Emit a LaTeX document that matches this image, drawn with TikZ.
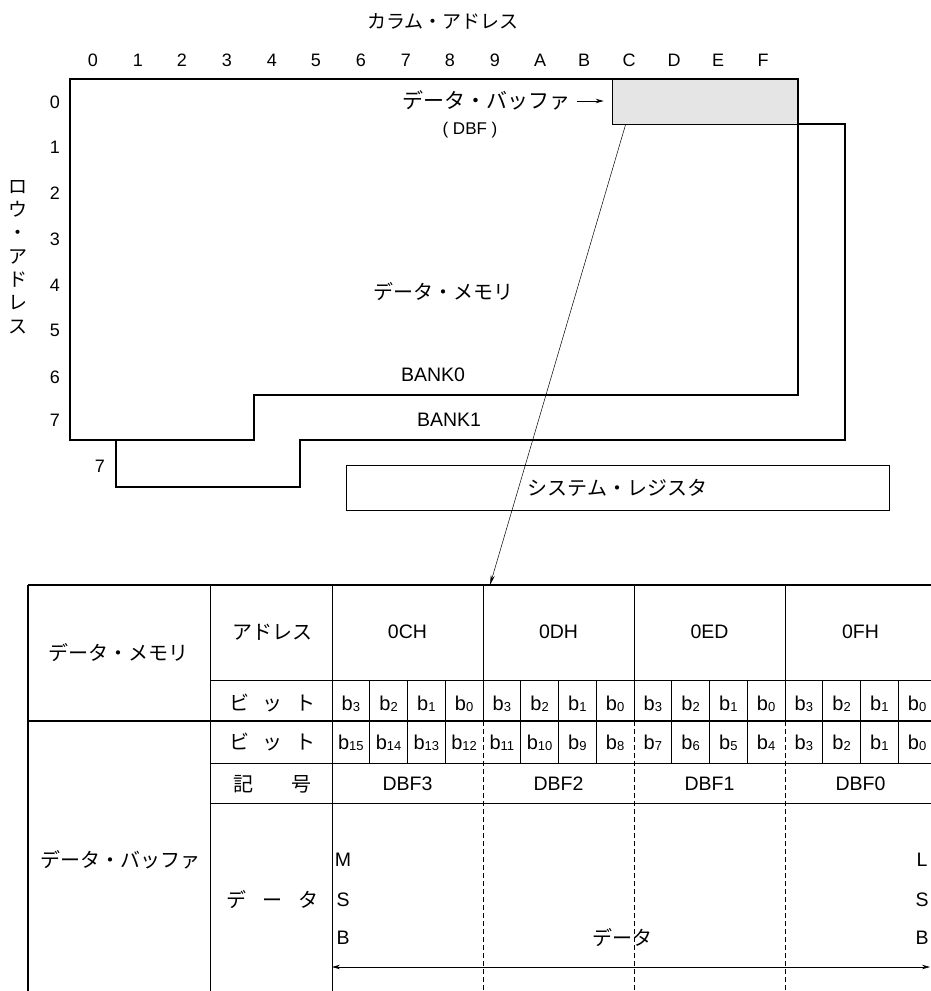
\documentclass[tikz,border=0pt]{standalone}
\usepackage{fontspec}
\setmainfont{Liberation Sans}
\newfontfamily\jpfont{Noto Sans CJK JP}
\usetikzlibrary{arrows.meta,positioning}

\newcommand{\bitsub}[1]{b\raisebox{-1.5pt}{\fontsize{13}{13}\selectfont #1}}

\tikzset{
	lat/.style={inner sep=0pt, text height=13.5pt, text depth=0pt, font=\fontsize{19.5}{22}\selectfont},
	digit/.style={inner sep=0pt, text height=12.5pt, text depth=0pt, font=\fontsize{18}{20}\selectfont},
	bitlbl/.style={inner sep=0pt, text height=14pt, text depth=0pt, font=\fontsize{20}{22}\selectfont},
	jp/.style={inner sep=0pt, text height=16pt, text depth=1pt, font=\jpfont\fontsize{20}{22}\selectfont},
	jpcol/.style={inner sep=0pt, align=center, font=\jpfont\fontsize{19}{23.3}\selectfont},
	heavy/.style={line width=1.6pt},
	rule/.style={line width=0.7pt},
	groupsep/.style={line width=0.6pt, dash pattern=on 5pt off 3pt},
	tip/.style={-{Stealth[length=8pt,width=4.5pt]}},
	dbfbox/.style={draw, rule, fill=gray!20, minimum width=186pt, minimum height=45pt, inner sep=0pt},
	sysbox/.style={draw, rule, minimum width=543pt, minimum height=45pt, inner sep=0pt, text height=16pt, text depth=1pt, font=\jpfont\fontsize{20}{22}\selectfont}
}

\begin{document}
\begin{tikzpicture}[x=1pt,y=-1pt]
		\useasboundingbox (0,0) rectangle (930,991);

		% address titles
		\draw (443,21) node [jp, font=\jpfont\fontsize{19}{20}\selectfont] (coltitle){カラム・アドレス};
		\draw (18,257) node [jpcol] (rowtitle){ロ\\ウ\\・\\ア\\ド\\レ\\ス};

		\draw (93,60) node [digit] (c0){0} (138,60) node [digit] (c1){1}
			(182,60) node [digit] (c2){2} (227,60) node [digit] (c3){3}
			(272,60) node [digit] (c4){4} (316,60) node [digit] (c5){5}
			(361,60) node [digit] (c6){6} (406,60) node [digit] (c7){7}
			(450,60) node [digit] (c8){8} (495,60) node [digit] (c9){9}
			(540,60) node [digit] (cA){A} (584,60) node [digit] (cB){B}
			(629,60) node [digit] (cC){C} (674,60) node [digit] (cD){D}
			(718,60) node [digit] (cE){E} (763,60) node [digit] (cF){F};

		\draw (55,102) node [digit] (r0){0} (55,147) node [digit] (r1){1}
			(55,193) node [digit] (r2){2} (55,239) node [digit] (r3){3}
			(55,285) node [digit] (r4){4} (55,330) node [digit] (r5){5}
			(55,377) node [digit] (r6){6} (55,420) node [digit] (r7){7};
		\draw (100,466) node [digit] (r7b){7};

		% data memory banks
		\draw (705,101.5) node [dbfbox] (dbf){};
		\draw[heavy] (70,79) -- (798,79) -- (798,395) -- (254,395) -- (254,440) -- (70,440) -- cycle;
		\draw[heavy] (798,124) -- (845,124) -- (845,440) -- (300,440) -- (300,487) -- (116,487) -- (116,440);

		\draw (443,292) node [jp] (dmem){データ・メモリ};
		\draw (433,375) node [lat] (bank0){BANK0};
		\draw (449,420) node [lat] (bank1){BANK1};
		\draw (571,101) node [jp, anchor=east, font=\jpfont\fontsize{21}{22}\selectfont] (dbflbl){データ・バッファ};
		\draw (470,128) node [lat, font=\fontsize{17}{20}\selectfont] (dbfabbr){( DBF )};
		\draw [rule, tip, shorten <=6pt, shorten >=8pt] (dbflbl.east) -- (dbflbl.east -| dbf.west);

		% system register
		\draw (617.5,487.5) node [sysbox] (sysreg){システム・レジスタ};
		\draw[heavy] (sysreg.south west) -- (sysreg.south east) -- (sysreg.north east);

		% link down to the table
		\coordinate (tbltop) at (490,585);
		\draw [line width=0.5pt, -{Stealth[length=10pt,width=4pt]}] ([xshift=14pt]dbf.south west) -- (tbltop);

		% table rules
		\draw[heavy] (28,585) -- (940,585) (28,585) -- (28,995) (28,721) -- (940,721);
		\draw[rule] (210,585) -- (210,995) (332,585) -- (332,995)
			(210,680) -- (940,680) (210,763) -- (940,763) (210,803) -- (940,803);
		\draw[rule] (483,585) -- (483,721) (634,585) -- (634,721) (785,585) -- (785,721);
		\draw[groupsep] (483,721) -- (483,995) (634,721) -- (634,995) (785,721) -- (785,995);
		\draw[rule] (369.75,680) -- (369.75,763) (407.5,680) -- (407.5,763) (445.25,680) -- (445.25,763)
			(520.75,680) -- (520.75,763) (558.5,680) -- (558.5,763) (596.25,680) -- (596.25,763)
			(671.75,680) -- (671.75,763) (709.5,680) -- (709.5,763) (747.25,680) -- (747.25,763)
			(822.75,680) -- (822.75,763) (860.5,680) -- (860.5,763) (898.25,680) -- (898.25,763);

		% table texts
		\draw (118,653) node [jp] (tdmem){データ・メモリ};
		\draw (272,632) node [jp] (taddr){アドレス};
		\draw (407.5,632) node [lat] (a0c){0CH} (558.5,632) node [lat] (a0d){0DH}
			(709.5,632) node [lat] (a0e){0ED} (860.5,632) node [lat] (a0f){0FH};

		\draw (272,703) node [jp] (tbita){ビ\hspace{13pt}ッ\hspace{13pt}ト};
		\draw (350.9,703) node [bitlbl] (m3){\bitsub{3}} (388.6,703) node [bitlbl] (m2){\bitsub{2}}
			(426.4,703) node [bitlbl] (m1){\bitsub{1}} (464.1,703) node [bitlbl] (m0){\bitsub{0}}
			(501.9,703) node [bitlbl] (n3){\bitsub{3}} (539.6,703) node [bitlbl] (n2){\bitsub{2}}
			(577.4,703) node [bitlbl] (n1){\bitsub{1}} (615.1,703) node [bitlbl] (n0){\bitsub{0}}
			(652.9,703) node [bitlbl] (o3){\bitsub{3}} (690.6,703) node [bitlbl] (o2){\bitsub{2}}
			(728.4,703) node [bitlbl] (o1){\bitsub{1}} (766.1,703) node [bitlbl] (o0){\bitsub{0}}
			(803.9,703) node [bitlbl] (p3){\bitsub{3}} (841.6,703) node [bitlbl] (p2){\bitsub{2}}
			(879.4,703) node [bitlbl] (p1){\bitsub{1}} (917.1,703) node [bitlbl] (p0){\bitsub{0}};

		\draw (272,742) node [jp] (tbitb){ビ\hspace{13pt}ッ\hspace{13pt}ト};
		\draw (350.9,742) node [bitlbl] (d15){\bitsub{15}} (388.6,742) node [bitlbl] (d14){\bitsub{14}}
			(426.4,742) node [bitlbl] (d13){\bitsub{13}} (464.1,742) node [bitlbl] (d12){\bitsub{12}}
			(501.9,742) node [bitlbl] (d11){\bitsub{11}} (539.6,742) node [bitlbl] (d10){\bitsub{10}}
			(577.4,742) node [bitlbl] (d9){\bitsub{9}} (615.1,742) node [bitlbl] (d8){\bitsub{8}}
			(652.9,742) node [bitlbl] (d7){\bitsub{7}} (690.6,742) node [bitlbl] (d6){\bitsub{6}}
			(728.4,742) node [bitlbl] (d5){\bitsub{5}} (766.1,742) node [bitlbl] (d4){\bitsub{4}}
			(803.9,742) node [bitlbl] (d3){\bitsub{3}} (841.6,742) node [bitlbl] (d2){\bitsub{2}}
			(879.4,742) node [bitlbl] (d1){\bitsub{1}} (917.1,742) node [bitlbl] (d0){\bitsub{0}};

		\draw (272,784) node [jp] (tsym){記\hspace{38pt}号};
		\draw (407.5,784) node [lat] (dbf3){DBF3} (558.5,784) node [lat] (dbf2){DBF2}
			(709.5,784) node [lat] (dbf1){DBF1} (860.5,784) node [lat] (dbf0){DBF0};

		\draw (120,860) node [jp] (tdbuf){データ・バッファ};
		\draw (272,900) node [jp] (tdata){デ\hspace{16pt}ー\hspace{16pt}タ};
		\draw (343,860) node [lat] (msbm){M} (343,900) node [lat] (msbs){S} (343,938) node [lat] (msbb){B};
		\draw (922,860) node [lat] (lsbl){L} (922,900) node [lat] (lsbs){S} (922,938) node [lat] (lsbb){B};
		\draw (622,938) node [jp] (tword){データ};

		\coordinate (msbend) at (332,967);
		\coordinate (lsbend) at (930,967);
		\draw [rule, {Stealth[length=8pt,width=4.5pt]}-{Stealth[length=8pt,width=4.5pt]}] (msbend) -- (lsbend);
	\end{tikzpicture}
\end{document}
